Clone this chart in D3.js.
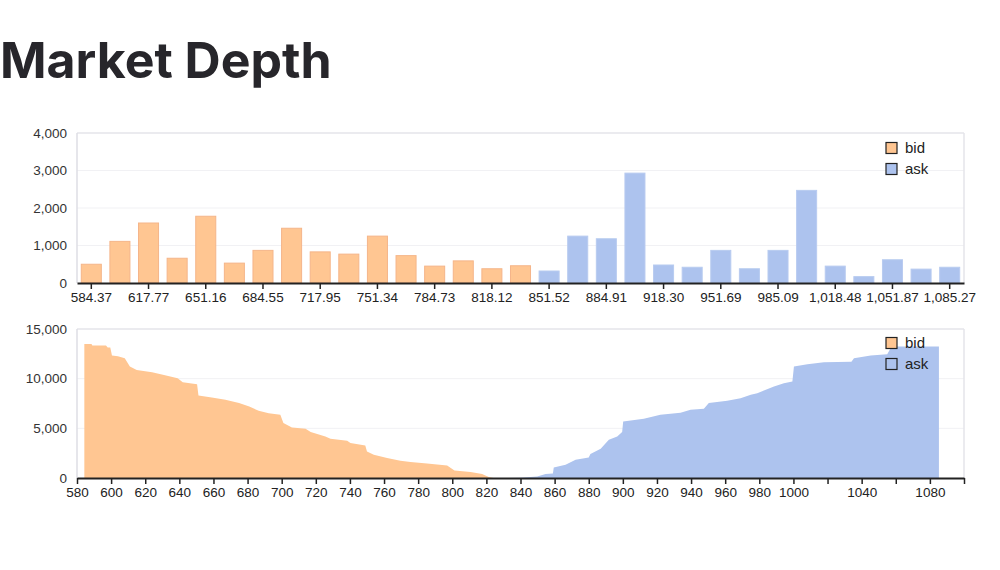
<!DOCTYPE html>
<html>
<head>
<meta charset="utf-8">
<script src="https://cdn.jsdelivr.net/npm/d3@7"></script>
<style>
  body { margin: 0; background: #fff; }
  text { font-family: "Liberation Sans", Arial, sans-serif; }
  .title { font-family: Inter, "Noto Sans", sans-serif; font-weight: 700; fill: #27262b; }
</style>
</head>
<body>
<div id="chart"></div>
<script>
// bin prices for the histogram (top chart)
var binPrices = [584.37, 601.07, 617.77, 634.46, 651.16, 667.85, 684.55, 701.25, 717.95, 734.64,
  751.34, 768.03, 784.73, 801.43, 818.12, 834.82, 851.52, 868.21, 884.91, 901.60,
  918.30, 935.00, 951.69, 968.39, 985.09, 1001.78, 1018.48, 1035.18, 1051.87, 1068.57, 1085.27];
// volume per bin, bid side first then ask side
var binVolumes = [500, 1110, 1600, 660, 1780, 530, 870, 1460, 830, 770,
  1250, 730, 450, 590, 380, 460, 320, 1250, 1180, 2930,
  480, 420, 870, 380, 870, 2470, 450, 170, 620, 370, 420];
var binSide = ["bid","bid","bid","bid","bid","bid","bid","bid","bid","bid",
  "bid","bid","bid","bid","bid","bid","ask","ask","ask","ask",
  "ask","ask","ask","ask","ask","ask","ask","ask","ask","ask","ask"];

// cumulative depth (bottom chart)
var bidPrices = [584.3, 588.5, 589, 597, 598, 599.5, 600.5, 604, 608, 611, 615, 624, 631, 639, 642, 650.4,
  651.2, 659, 667, 675, 681, 686.5, 692.4, 699.2, 701, 706, 714, 717, 725.6, 728.6, 738.4, 740.3,
  749, 750, 754, 761.8, 769.6, 775.5, 785.2, 797, 801.3, 810.7, 817.5, 821.4, 824.2];
var bidDepth = [13480, 13480, 13330, 13330, 13130, 13130, 12320, 12250, 12060, 11220, 10880, 10650, 10380, 10050, 9650, 9450,
  8300, 8100, 7870, 7540, 7200, 6760, 6530, 6360, 5530, 5085, 4955, 4620, 4185, 3950, 3750, 3520,
  3280, 2670, 2340, 2010, 1740, 1610, 1470, 1270, 765, 600, 400, 100, 0];
var askPrices = [832, 840, 849.8, 854.7, 859, 859.5, 866.4, 872.3, 880, 881, 887, 891.8, 896.7, 899.6, 900.2,
  912.3, 922, 933.8, 939.7, 947.5, 950.4, 961.2, 969, 975, 978.8, 988.6, 994.4, 999.4, 1000.3,
  1008.2, 1017.9, 1034, 1035.5, 1045.3, 1055, 1057.5, 1085.3];
var askDepth = [0, 20, 160, 400, 450, 1065, 1340, 1840, 2070, 2410, 2950, 3850, 4185, 4620, 5690,
  5960, 6360, 6560, 6860, 6965, 7540, 7770, 8040, 8370, 8540, 9200, 9550, 9710, 11220,
  11460, 11660, 11700, 12060, 12320, 12460, 13230, 13230];

var depthTicks = [580, 600, 620, 640, 660, 680, 700, 720, 740, 760, 780, 800, 820, 840, 860, 880,
  900, 920, 940, 960, 980, 1000, 1020, 1040, 1060, 1080, 1100];
var depthHidden = [1020, 1060, 1100];
var legendKeys = ["bid", "ask"];

var colors = { bid: "#ffc692", ask: "#adc3ee" };
var strokes = { bid: "#f5b589", ask: "#b8cbf0" };

var width = 1000, height = 570;
var left = 77, right = 964;
var tickFont = 13.5;

var svg = d3.select("#chart").append("svg")
  .attr("width", width)
  .attr("height", height);

svg.append("text").attr("class", "title")
  .attr("x", 0).attr("y", 78)
  .attr("font-size", 50)
  .text("Market Depth");

// frame, grid and y axis shared by both panels
function panel(top, bottom, yscale, yticks) {
  var g = svg.append("g");
  g.selectAll("line.grid").data(yticks.slice(1))
    .join("line")
    .attr("x1", left).attr("x2", right)
    .attr("y1", d => yscale(d)).attr("y2", d => yscale(d))
    .attr("stroke", d => d == yticks[yticks.length - 1] ? "#e4e4ea" : "#f1f1f4")
    .attr("stroke-width", d => d == yticks[yticks.length - 1] ? 1.5 : 1);
  g.append("line").attr("x1", left).attr("x2", left).attr("y1", top).attr("y2", bottom)
    .attr("stroke", "#dedee4").attr("stroke-width", 1.5);
  g.append("line").attr("x1", right).attr("x2", right).attr("y1", top).attr("y2", bottom)
    .attr("stroke", "#e4e4ea").attr("stroke-width", 1.5);
  var yaxis = d3.axisLeft(yscale).tickValues(yticks).tickSize(0).tickPadding(10).tickFormat(d3.format(","));
  var gy = svg.append("g").attr("transform", `translate(${left},0)`).call(yaxis);
  gy.select(".domain").remove();
  gy.selectAll("text").attr("font-size", tickFont).attr("fill", "#333").attr("font-family", "Liberation Sans, Arial, sans-serif");
}

function legend(y0) {
  var lg = svg.append("g").attr("transform", `translate(886,${y0})`);
  var item = lg.selectAll("g").data(legendKeys).join("g")
    .attr("transform", (d, i) => `translate(0,${i * 21})`);
  item.append("rect").attr("width", 11).attr("height", 11)
    .attr("fill", d => colors[d]).attr("stroke", "#222").attr("stroke-width", 1.2);
  item.append("text").attr("x", 19).attr("y", 10.5)
    .attr("font-size", 15).attr("fill", "#222").text(d => d);
}

function styleXAxis(gx) {
  gx.select(".domain").attr("stroke", "#222").attr("stroke-width", 2);
  gx.selectAll(".tick line").attr("stroke", "#222").attr("stroke-width", 1.5);
  gx.selectAll("text").attr("font-size", tickFont).attr("fill", "#222").attr("font-family", "Liberation Sans, Arial, sans-serif");
}

// ---- top: histogram ----
var top1 = 133, bottom1 = 283;
var xband = d3.scaleBand().domain(binPrices).range([left, right]).paddingInner(0.3).paddingOuter(0.15);
var y1 = d3.scaleLinear().domain([0, 4000]).range([bottom1, top1]);
panel(top1, bottom1, y1, [0, 1000, 2000, 3000, 4000]);

var bins = binPrices.map((p, i) => ({ price: p, volume: binVolumes[i], side: binSide[i] }));
svg.append("g").selectAll("rect").data(bins).join("rect")
  .attr("x", d => xband(d.price))
  .attr("width", xband.bandwidth())
  .attr("y", d => y1(d.volume))
  .attr("height", d => bottom1 - y1(d.volume))
  .attr("fill", d => colors[d.side])
  .attr("stroke", d => strokes[d.side]);

var xaxis1 = d3.axisBottom(xband)
  .tickValues(binPrices.filter((d, i) => i % 2 == 0))
  .tickSizeOuter(0).tickSizeInner(6).tickPadding(3)
  .tickFormat(d3.format(",.2f"));
var gx1 = svg.append("g").attr("transform", `translate(0,${bottom1})`).call(xaxis1);
styleXAxis(gx1);
legend(142.5);

// ---- bottom: cumulative depth ----
var top2 = 329, bottom2 = 478;
var x2 = d3.scaleLinear().domain([580, 1100]).range([left, right]);
var y2 = d3.scaleLinear().domain([0, 15000]).range([bottom2, top2]);
panel(top2, bottom2, y2, [0, 5000, 10000, 15000]);

var area = d3.area()
  .x(d => x2(d[0]))
  .y0(bottom2)
  .y1(d => y2(d[1]));

svg.append("path")
  .datum(bidPrices.map((p, i) => [p, bidDepth[i]]))
  .attr("d", area)
  .attr("fill", colors.bid);
svg.append("path")
  .datum(askPrices.map((p, i) => [p, askDepth[i]]))
  .attr("d", area)
  .attr("fill", colors.ask);

var xaxis2 = d3.axisBottom(x2)
  .tickValues(depthTicks)
  .tickSizeOuter(0).tickSizeInner(6).tickPadding(3)
  .tickFormat(d => depthHidden.indexOf(d) >= 0 ? "" : d);
var gx2 = svg.append("g").attr("transform", `translate(0,${bottom2})`).call(xaxis2);
styleXAxis(gx2);
legend(337.5);
</script>
</body>
</html>
